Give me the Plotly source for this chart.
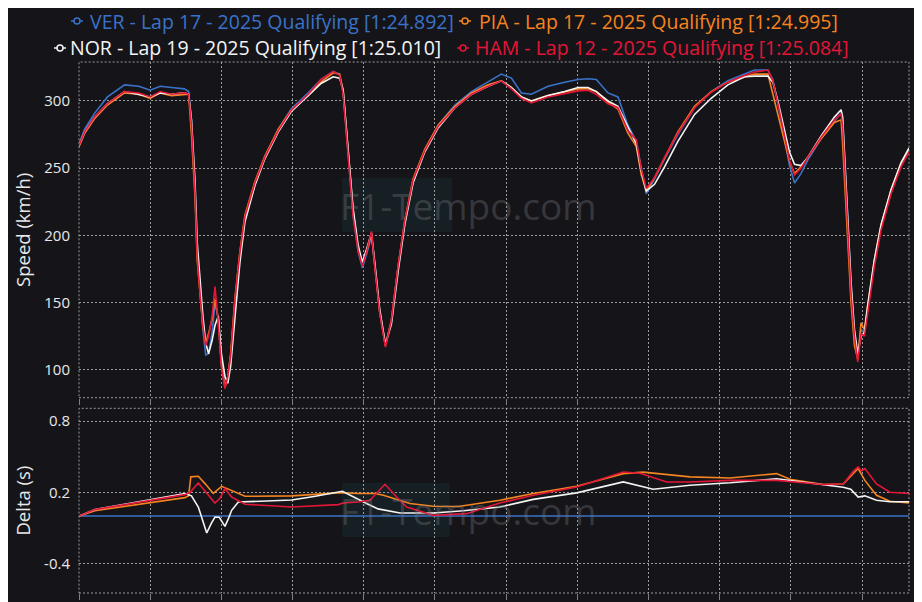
import plotly.graph_objects as go

# ---------------- data ----------------
DRIVERS = ["VER", "PIA", "NOR", "HAM"]
LAPS = [17, 17, 19, 12]
LAP_TIMES = ["1:24.892", "1:24.995", "1:25.010", "1:25.084"]
SESSION = "2025 Qualifying"
COLORS = ["#3a72c9", "#f5841f", "#f4f4f4", "#e31638"]

DIST = [0, 40, 110, 200, 320, 420, 500, 570, 650, 740, 770, 790, 815, 830, 850, 870, 890, 910, 935, 955,
        978, 1000, 1025, 1045, 1065, 1095, 1130, 1165, 1235, 1305, 1400, 1490, 1610, 1700, 1785, 1830, 1855, 1890, 1925, 1960,
        1990, 2020, 2054, 2077, 2112, 2152, 2194, 2241, 2288, 2346, 2428, 2522, 2640, 2756, 2873, 2966, 3037, 3107, 3177, 3294,
        3411, 3505, 3575, 3633, 3715, 3785, 3855, 3914, 3949, 3984, 4042, 4112, 4206, 4323, 4440, 4557, 4674, 4744, 4838, 4873,
        4908, 4955, 4990, 5025, 5070, 5118, 5212, 5305, 5352, 5363, 5375, 5399, 5422, 5446, 5469, 5492, 5516, 5539, 5586, 5633,
        5703, 5773, 5829]

SPEED_HAM = [267, 277, 288, 298, 307, 306, 303, 307, 305, 306, 305, 282, 232, 185, 157, 133, 118, 125, 140, 162,
             135, 102, 86, 95, 110, 152, 187, 214, 239, 258, 278, 293, 305, 316, 322, 319, 305, 256, 214, 189,
             177, 188, 203, 177, 142, 117, 137, 177, 211, 241, 263, 281, 295, 305, 311, 315, 309, 302, 298.5, 303,
             305.5, 307.5, 308, 305, 298, 295, 278, 271, 249, 235, 243, 258, 276, 295, 306.5, 314, 319, 321.5, 323, 315,
             298, 273, 256, 245, 250, 258, 273, 286, 290.6, 281, 256, 206, 157, 125, 106, 127, 125, 142, 177, 204,
             231, 251, 262]
SPEED_VER = [268, 279, 291, 303, 312, 311, 308, 311, 310, 309, 307, 285, 234, 188, 160, 130, 111, 112, 128, 150,
             138, 105, 88, 94, 110, 150, 185, 212, 238, 258, 279, 294, 306, 316, 322, 320, 306, 258, 215, 188,
             176, 186, 200, 178, 143, 118, 136, 176, 210, 240, 263, 282, 297, 307, 314, 320, 317, 306, 305, 311,
             314, 316, 316.5, 316, 306, 303, 282, 270, 250, 231, 242, 257, 275, 295, 307, 315, 320, 323, 323, 316,
             298, 272, 252, 239, 246, 256, 272, 285, 291, 285, 262, 212, 160, 127, 110, 130, 128, 145, 180, 206,
             232, 252, 264]
SPEED_PIA = [266, 276, 287, 297, 306, 305, 302, 306, 304, 305, 305, 275, 228, 182, 155, 132, 120, 127, 138, 153,
             138, 104, 87, 95, 112, 153, 188, 215, 240, 259, 279, 293, 304, 314, 321, 320, 308, 260, 218, 190,
             178, 188, 201, 178, 143, 118, 137, 177, 211, 242, 264, 282, 296, 306, 312, 315, 310, 303, 300, 304,
             307, 309, 309, 307, 299, 294, 276, 266, 245, 233, 243, 258, 277, 296, 307, 314, 318, 320, 320, 305,
             290, 270, 255, 246, 251, 258, 272, 284, 286, 268, 245, 198, 150, 118, 108, 135, 130, 148, 182, 208,
             234, 254, 265]
SPEED_NOR = [267, 277, 288, 298, 307, 305, 303, 306, 305, 306, 305, 286, 240, 195, 165, 140, 120, 112, 122, 133,
             140, 112, 95, 90, 103, 140, 180, 210, 237, 257, 277, 292, 304, 313, 318, 317, 308, 262, 220, 193,
             180, 190, 202, 180, 145, 119, 134, 173, 208, 239, 262, 280, 295, 305, 311, 315, 310, 303, 300, 304,
             307, 310, 310, 307, 300, 296, 281, 268, 248, 233, 238, 251, 270, 290, 302, 312, 318, 318.5, 318.5, 314,
             300, 278, 262, 253, 252, 258, 274, 288, 293.5, 288, 265, 215, 165, 130, 112, 125, 128, 148, 182, 208,
             234, 254, 265]
SPEEDS = [SPEED_VER, SPEED_PIA, SPEED_NOR, SPEED_HAM]

DELTA_DIST_VER = [0, 5829]
DELTA_VER = [0, 0]
DELTA_DIST_PIA = [0, 112, 744, 770, 785, 838, 885, 943, 1002, 1072, 1166, 1494, 1845, 1961, 2079, 2137, 2219, 2324,
                  2488, 2664, 2956, 3190, 3495, 3822, 3963, 4291, 4572, 4899, 4993, 5227, 5367, 5472, 5519, 5601, 5695, 5829]
DELTA_PIA = [0, 0.045, 0.155, 0.17, 0.33, 0.335, 0.273, 0.19, 0.25, 0.217, 0.166, 0.17, 0.197, 0.19, 0.19, 0.175, 0.147, 0.105,
             0.082, 0.08, 0.133, 0.19, 0.25, 0.357, 0.37, 0.33, 0.32, 0.357, 0.31, 0.265, 0.27, 0.4, 0.3, 0.175, 0.124, 0.11]
DELTA_DIST_NOR = [0, 112, 744, 790, 838, 870, 897, 930, 955, 985, 1025, 1050, 1072, 1119, 1300, 1493, 1650, 1850, 2020,
                  2100, 2254, 2488, 2700, 2956, 3190, 3495, 3822, 3963, 4033, 4291, 4572, 4899, 4993, 5227, 5367, 5420,
                  5472, 5519, 5601, 5695, 5829]
DELTA_NOR = [0, 0.054, 0.19, 0.17, 0.076, -0.05, -0.143, -0.06, -0.008, -0.01, -0.087, -0.02, 0.048, 0.118, 0.125, 0.135,
             0.165, 0.208, 0.105, 0.06, 0.026, 0.026, 0.045, 0.076, 0.14, 0.195, 0.287, 0.245, 0.226, 0.259, 0.28, 0.314,
             0.3, 0.26, 0.243, 0.225, 0.16, 0.17, 0.133, 0.12, 0.12]
DELTA_DIST_HAM = [0, 112, 744, 780, 838, 897, 955, 990, 1025, 1072, 1166, 1494, 1821, 1856, 1961, 2043, 2149, 2231, 2301,
                  2488, 2722, 2956, 3190, 3495, 3822, 3939, 4127, 4291, 4572, 4899, 5227, 5367, 5440, 5472, 5495, 5519,
                  5601, 5695, 5829]
DELTA_HAM = [0, 0.054, 0.18, 0.2, 0.279, 0.189, 0.11, 0.15, 0.231, 0.16, 0.099, 0.076, 0.096, 0.11, 0.118, 0.133, 0.267,
             0.16, 0.076, 0.006, 0.02, 0.11, 0.175, 0.245, 0.371, 0.36, 0.287, 0.287, 0.3, 0.3, 0.265, 0.27, 0.38, 0.413,
             0.38, 0.4, 0.27, 0.2, 0.19]
DELTA_DISTS = [DELTA_DIST_VER, DELTA_DIST_PIA, DELTA_DIST_NOR, DELTA_DIST_HAM]
DELTAS = [DELTA_VER, DELTA_PIA, DELTA_NOR, DELTA_HAM]

SPEED_TICKS = [100, 150, 200, 250, 300]
DELTA_TICKS = [-0.4, 0.2, 0.8]
DELTA_TICK_TEXT = ["-0.4", "0.2", "0.8"]
WATERMARK = "F1-Tempo.com"

# ---------------- styling ----------------
# The page body adds an 8px offset; the figure is laid out so that it lands
# on the reference's pixel positions once that offset is applied.
OFF = 8
W, H = 922, 602
PLOT_L, PLOT_R, PLOT_T, PLOT_B = 79, 909, 62, 593   # window pixels of the plot area
ML, MT = PLOT_L - OFF, PLOT_T - OFF
MR, MB = W - (PLOT_R - OFF), H - (PLOT_B - OFF)
PW, PH = W - ML - MR, H - MT - MB
BG = "#151519"
GRID = "rgba(200,200,200,0.75)"
FONT = "Open Sans"
TXT = "#e8e8e8"


def px2x(px):
    return (px - PLOT_L) / PW


def py2y(py):
    return (PLOT_B - py) / PH


TOP_DOM = [py2y(397.7), 1.0]
BOT_DOM = [0.0, py2y(408.3)]

fig = go.Figure()
for i, d in enumerate(DRIVERS):
    fig.add_trace(go.Scatter(x=DIST, y=SPEEDS[i], mode="lines", name=d,
                             line=dict(color=COLORS[i], width=1.6), xaxis="x", yaxis="y",
                             showlegend=False))
for i, d in enumerate(DRIVERS):
    fig.add_trace(go.Scatter(x=DELTA_DISTS[i], y=DELTAS[i], mode="lines", name=d,
                             line=dict(color=COLORS[i], width=1.6), xaxis="x2", yaxis="y2",
                             showlegend=False))

xcommon = dict(range=[0, 5829], tick0=0, dtick=500, showgrid=True, gridcolor=GRID,
               griddash="2px,2px", gridwidth=1, showticklabels=False, ticks="outside",
               ticklen=6, tickcolor="rgba(200,200,200,0.6)", zeroline=False, showline=False,
               automargin=False)

fig.update_layout(
    width=W, height=H, paper_bgcolor=BG, plot_bgcolor=BG,
    margin=dict(l=ML, r=MR, t=MT, b=MB, autoexpand=False),
    font=dict(family=FONT, color=TXT, size=14),
    xaxis=dict(domain=[0, 1], anchor="y", **xcommon),
    xaxis2=dict(domain=[0, 1], anchor="y2", matches="x", **xcommon),
    yaxis=dict(domain=TOP_DOM, anchor="x", range=[79.3, 329], tickvals=SPEED_TICKS,
               showgrid=True, gridcolor=GRID, griddash="2px,2px", zeroline=False, automargin=False,
               ticklabelstandoff=8, tickfont=dict(size=15, color=TXT),
               title=dict(text="Speed (km/h)", font=dict(size=18.5, color=TXT), standoff=8)),
    yaxis2=dict(domain=BOT_DOM, anchor="x2", range=[-0.648, 0.907], tickvals=DELTA_TICKS,
                ticktext=DELTA_TICK_TEXT, showgrid=True, gridcolor=GRID, griddash="2px,2px",
                zeroline=False, automargin=False, ticklabelstandoff=8, tickfont=dict(size=15, color=TXT),
                title=dict(text="Delta (s)", font=dict(size=18.5, color=TXT), standoff=8)),
)

shapes = []
# dotted frames around both panels
for xr, yr in (("x domain", "y domain"), ("x2 domain", "y2 domain")):
    shapes.append(dict(type="rect", xref=xr, yref=yr, x0=0, x1=1, y0=0, y1=1,
                       line=dict(color=GRID, width=1, dash="2px,2px"), layer="below"))

annotations = []
# watermarks
for cy, box in ((205, (342, 452, 178, 232)), (510, (342, 450, 483, 537))):
    shapes.append(dict(type="rect", xref="paper", yref="paper",
                       x0=px2x(box[0]), x1=px2x(box[1]), y0=py2y(box[3]), y1=py2y(box[2]),
                       fillcolor="rgba(25,55,60,0.3)", line=dict(width=0), layer="below"))
    annotations.append(dict(text=WATERMARK, xref="paper", yref="paper", x=px2x(468), y=py2y(cy),
                            showarrow=False, xanchor="center", yanchor="middle",
                            font=dict(family="Open Sans", size=37, color="rgba(120,120,125,0.35)")))

# legend (two centred rows)
LEG_POS = [(77, 88, 21), (465, 477, 21), (60, 68, 48), (463, 473, 48)]
for i, d in enumerate(DRIVERS):
    mx, tx, cy = LEG_POS[i]
    label = f"{d} - Lap {LAPS[i]} - {SESSION} [{LAP_TIMES[i]}]"
    shapes.append(dict(type="line", xref="paper", yref="paper", x0=px2x(mx - 6), x1=px2x(mx + 6),
                       y0=py2y(cy), y1=py2y(cy), line=dict(color=COLORS[i], width=1.5)))
    shapes.append(dict(type="circle", xref="paper", yref="paper", x0=px2x(mx - 3), x1=px2x(mx + 3),
                       y0=py2y(cy - 3), y1=py2y(cy + 3), fillcolor=BG, line=dict(color=COLORS[i], width=1.5)))
    annotations.append(dict(text=label, xref="paper", yref="paper", x=px2x(tx), y=py2y(cy),
                            showarrow=False, xanchor="left", yanchor="middle",
                            font=dict(family=FONT, size=19.5, color=COLORS[i])))

fig.update_layout(shapes=shapes, annotations=annotations)
fig.write_html("out.html")
